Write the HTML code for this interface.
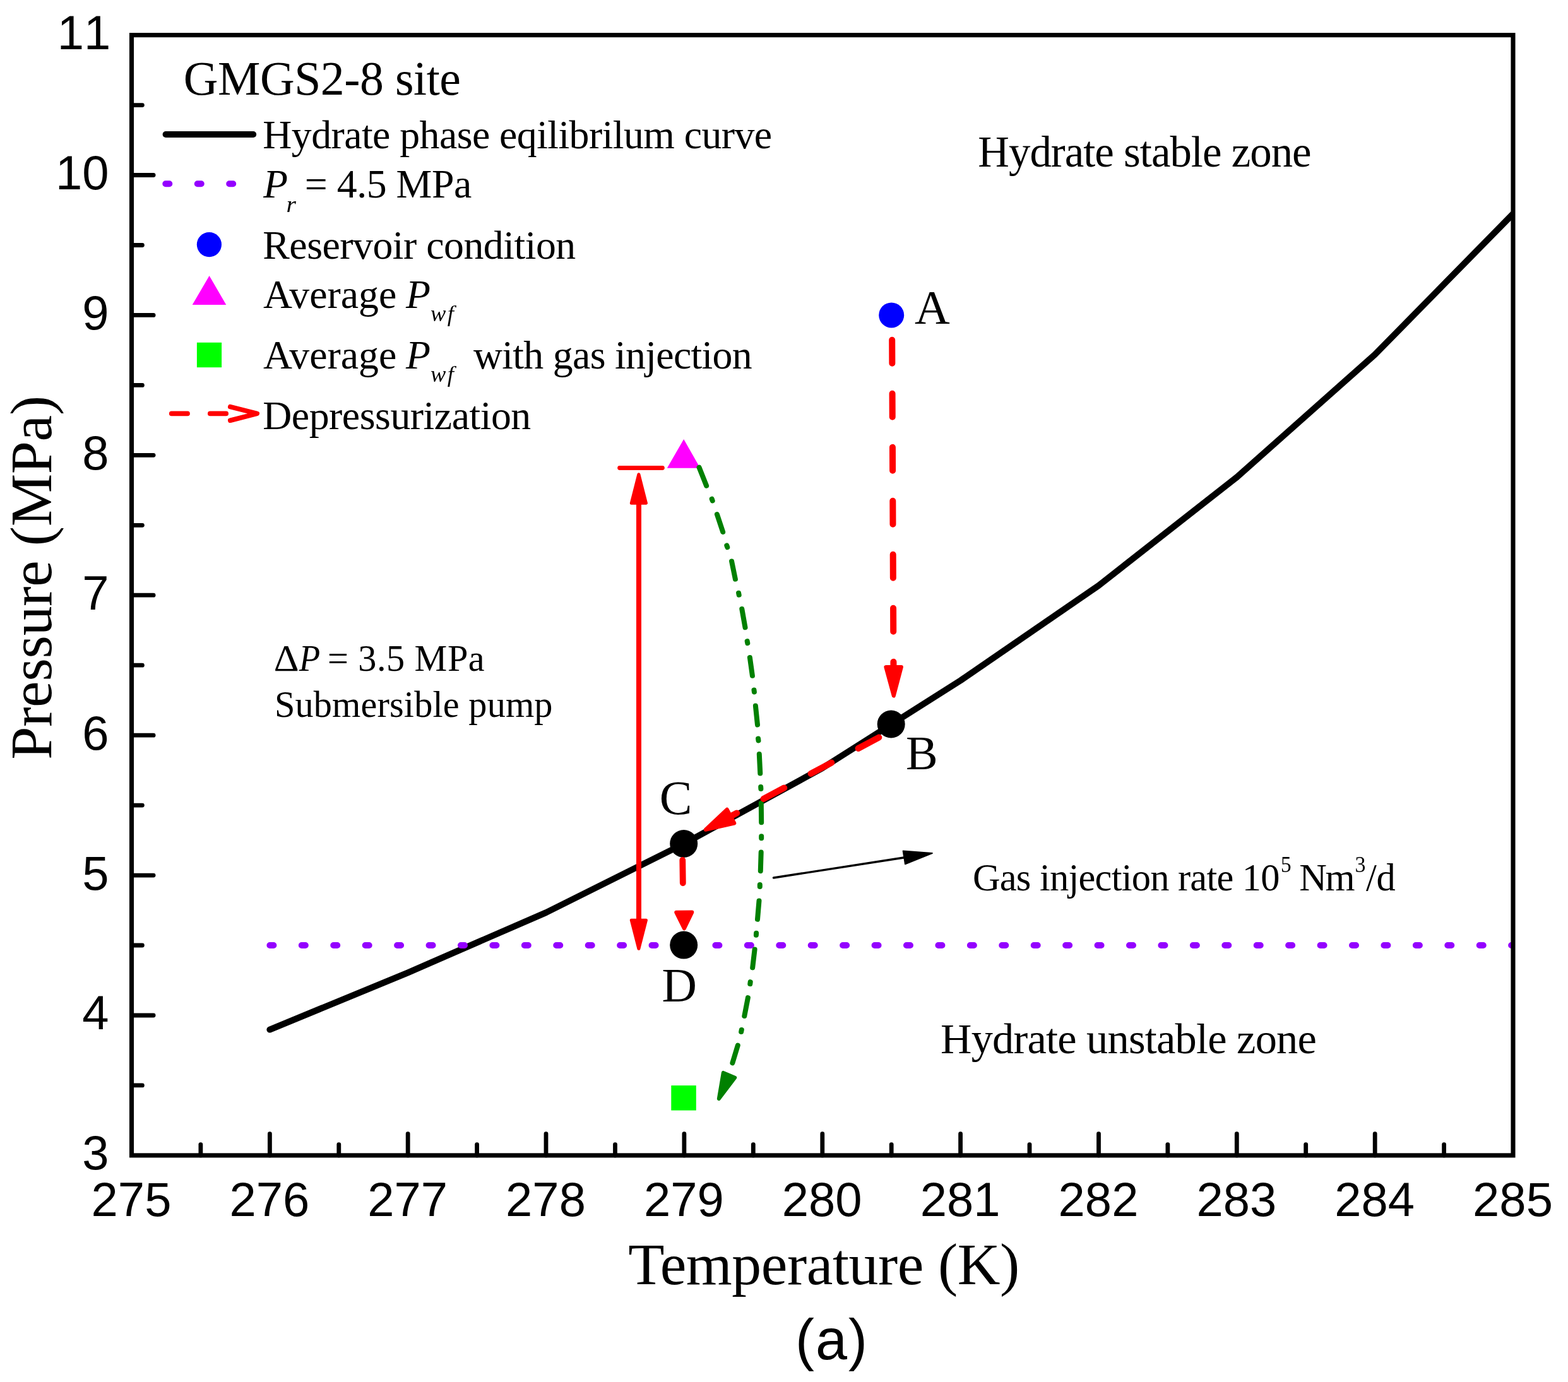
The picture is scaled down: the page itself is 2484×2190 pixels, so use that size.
<!DOCTYPE html>
<html><head><meta charset="utf-8"><title>Hydrate phase equilibrium</title>
<style>html,body{margin:0;padding:0;background:#fff;overflow:hidden}svg{display:block}</style></head>
<body>
<svg width="2484" height="2190" viewBox="0 0 2484 2190">
<rect width="2484" height="2190" fill="#fff"/>
<defs><clipPath id="plot"><rect x="208.5" y="55.6" width="2188.5" height="1775.3000000000002"/></clipPath></defs>
<polyline points="427.4,1631.6 646.2,1541.3 865.0,1446.1 1083.9,1336.9 1302.8,1217.1 1521.6,1078.4 1740.5,927.9 1959.3,756.2 2178.2,561.8 2397.0,338.8" fill="none" stroke="#000" stroke-width="10" stroke-linecap="round" stroke-linejoin="round" clip-path="url(#plot)"/>
<line x1="427.4" y1="1498.0" x2="2397.0" y2="1498.0" stroke="#9400ff" stroke-width="10" stroke-linecap="round" stroke-dasharray="6 44.43" clip-path="url(#plot)"/>
<polygon points="1083.2,696 1109.2,741.7 1056.8,741.7" fill="#ff00ff"/>
<path d="M1107.6,740.7L1119.1,769.7M1127.7,790.7L1128.7,793.5M1135.9,815.1L1145.2,843.0M1151.3,864.4L1152.3,867.2M1159.1,889.5L1164.9,917.7M1170.1,939.7L1170.7,942.7M1175.3,965.0L1180.5,994.3M1183.7,1016.1L1184.3,1019.1M1187.9,1042.0L1191.9,1070.8M1194.5,1093.5L1194.9,1096.5M1196.9,1118.5L1200.0,1148.5M1201.1,1170.5L1201.5,1173.5M1202.8,1195.1L1204.3,1225.5M1205.2,1247.1L1205.4,1250.1M1205.8,1272.8L1206.2,1303.2M1206.2,1325.2L1206.2,1328.2M1205.7,1350.5L1204.8,1380.2M1203.8,1401.9L1203.8,1404.9M1202.5,1427.5L1200.0,1456.8M1198.1,1478.8L1197.9,1481.8M1195.6,1504.5L1192.2,1533.4M1188.7,1556.1L1188.3,1559.1M1184.9,1581.1L1179.3,1610.0M1174.8,1632.0L1174.2,1635.0M1168.8,1656.7L1160.4,1684.4" fill="none" stroke="#008000" stroke-width="8" stroke-linecap="round"/>
<polygon points="1138.8,1741.2 1145.8,1699.9 1164.2,1707.8" fill="#008000" stroke="#008000" stroke-width="6" stroke-linejoin="round"/>
<rect x="208.5" y="55.6" width="2188.5" height="1775.3000000000002" fill="none" stroke="#000" stroke-width="7.1"/>
<line x1="208.5" y1="1719.9" x2="225.4" y2="1719.9" stroke="#000" stroke-width="6.8" stroke-linecap="round"/>
<line x1="208.5" y1="1609.0" x2="243.1" y2="1609.0" stroke="#000" stroke-width="6.8" stroke-linecap="round"/>
<line x1="208.5" y1="1498.0" x2="225.4" y2="1498.0" stroke="#000" stroke-width="6.8" stroke-linecap="round"/>
<line x1="208.5" y1="1387.1" x2="243.1" y2="1387.1" stroke="#000" stroke-width="6.8" stroke-linecap="round"/>
<line x1="208.5" y1="1276.1" x2="225.4" y2="1276.1" stroke="#000" stroke-width="6.8" stroke-linecap="round"/>
<line x1="208.5" y1="1165.2" x2="243.1" y2="1165.2" stroke="#000" stroke-width="6.8" stroke-linecap="round"/>
<line x1="208.5" y1="1054.2" x2="225.4" y2="1054.2" stroke="#000" stroke-width="6.8" stroke-linecap="round"/>
<line x1="208.5" y1="943.2" x2="243.1" y2="943.2" stroke="#000" stroke-width="6.8" stroke-linecap="round"/>
<line x1="208.5" y1="832.3" x2="225.4" y2="832.3" stroke="#000" stroke-width="6.8" stroke-linecap="round"/>
<line x1="208.5" y1="721.3" x2="243.1" y2="721.3" stroke="#000" stroke-width="6.8" stroke-linecap="round"/>
<line x1="208.5" y1="610.4" x2="225.4" y2="610.4" stroke="#000" stroke-width="6.8" stroke-linecap="round"/>
<line x1="208.5" y1="499.4" x2="243.1" y2="499.4" stroke="#000" stroke-width="6.8" stroke-linecap="round"/>
<line x1="208.5" y1="388.5" x2="225.4" y2="388.5" stroke="#000" stroke-width="6.8" stroke-linecap="round"/>
<line x1="208.5" y1="277.5" x2="243.1" y2="277.5" stroke="#000" stroke-width="6.8" stroke-linecap="round"/>
<line x1="208.5" y1="166.6" x2="225.4" y2="166.6" stroke="#000" stroke-width="6.8" stroke-linecap="round"/>
<line x1="317.9" y1="1830.9" x2="317.9" y2="1813.6000000000001" stroke="#000" stroke-width="6.8" stroke-linecap="round"/>
<line x1="427.4" y1="1830.9" x2="427.4" y2="1796.7000000000003" stroke="#000" stroke-width="6.8" stroke-linecap="round"/>
<line x1="536.8" y1="1830.9" x2="536.8" y2="1813.6000000000001" stroke="#000" stroke-width="6.8" stroke-linecap="round"/>
<line x1="646.2" y1="1830.9" x2="646.2" y2="1796.7000000000003" stroke="#000" stroke-width="6.8" stroke-linecap="round"/>
<line x1="755.6" y1="1830.9" x2="755.6" y2="1813.6000000000001" stroke="#000" stroke-width="6.8" stroke-linecap="round"/>
<line x1="865.0" y1="1830.9" x2="865.0" y2="1796.7000000000003" stroke="#000" stroke-width="6.8" stroke-linecap="round"/>
<line x1="974.5" y1="1830.9" x2="974.5" y2="1813.6000000000001" stroke="#000" stroke-width="6.8" stroke-linecap="round"/>
<line x1="1083.9" y1="1830.9" x2="1083.9" y2="1796.7000000000003" stroke="#000" stroke-width="6.8" stroke-linecap="round"/>
<line x1="1193.3" y1="1830.9" x2="1193.3" y2="1813.6000000000001" stroke="#000" stroke-width="6.8" stroke-linecap="round"/>
<line x1="1302.8" y1="1830.9" x2="1302.8" y2="1796.7000000000003" stroke="#000" stroke-width="6.8" stroke-linecap="round"/>
<line x1="1412.2" y1="1830.9" x2="1412.2" y2="1813.6000000000001" stroke="#000" stroke-width="6.8" stroke-linecap="round"/>
<line x1="1521.6" y1="1830.9" x2="1521.6" y2="1796.7000000000003" stroke="#000" stroke-width="6.8" stroke-linecap="round"/>
<line x1="1631.0" y1="1830.9" x2="1631.0" y2="1813.6000000000001" stroke="#000" stroke-width="6.8" stroke-linecap="round"/>
<line x1="1740.5" y1="1830.9" x2="1740.5" y2="1796.7000000000003" stroke="#000" stroke-width="6.8" stroke-linecap="round"/>
<line x1="1849.9" y1="1830.9" x2="1849.9" y2="1813.6000000000001" stroke="#000" stroke-width="6.8" stroke-linecap="round"/>
<line x1="1959.3" y1="1830.9" x2="1959.3" y2="1796.7000000000003" stroke="#000" stroke-width="6.8" stroke-linecap="round"/>
<line x1="2068.7" y1="1830.9" x2="2068.7" y2="1813.6000000000001" stroke="#000" stroke-width="6.8" stroke-linecap="round"/>
<line x1="2178.2" y1="1830.9" x2="2178.2" y2="1796.7000000000003" stroke="#000" stroke-width="6.8" stroke-linecap="round"/>
<line x1="2287.6" y1="1830.9" x2="2287.6" y2="1813.6000000000001" stroke="#000" stroke-width="6.8" stroke-linecap="round"/>
<g font-family="'Liberation Sans',Arial,Helvetica,sans-serif" font-size="76" fill="#000" style="font-kerning:none">
<text x="172.5" y="1853.3" text-anchor="end">3</text>
<text x="172.5" y="1631.4" text-anchor="end">4</text>
<text x="172.5" y="1409.5" text-anchor="end">5</text>
<text x="172.5" y="1187.6" text-anchor="end">6</text>
<text x="172.5" y="965.6" text-anchor="end">7</text>
<text x="172.5" y="743.7" text-anchor="end">8</text>
<text x="172.5" y="521.8" text-anchor="end">9</text>
<text x="172.5" y="299.9" text-anchor="end">10</text>
<text x="175.2" y="78.0" text-anchor="end">11</text>
<text x="208.0" y="1927.2" text-anchor="middle">275</text>
<text x="426.9" y="1927.2" text-anchor="middle">276</text>
<text x="645.7" y="1927.2" text-anchor="middle">277</text>
<text x="864.5" y="1927.2" text-anchor="middle">278</text>
<text x="1083.4" y="1927.2" text-anchor="middle">279</text>
<text x="1302.2" y="1927.2" text-anchor="middle">280</text>
<text x="1521.1" y="1927.2" text-anchor="middle">281</text>
<text x="1740.0" y="1927.2" text-anchor="middle">282</text>
<text x="1958.8" y="1927.2" text-anchor="middle">283</text>
<text x="2177.7" y="1927.2" text-anchor="middle">284</text>
<text x="2396.5" y="1927.2" text-anchor="middle">285</text>
</g>
<text x="1259.97" y="2153.50" font-family="'Liberation Sans',Arial,Helvetica,sans-serif" font-size="90" letter-spacing="1.963" xml:space="preserve">(a)</text>
<text x="995.36" y="2034.60" font-family="'Liberation Serif','Times New Roman',Times,serif" font-size="93.8" letter-spacing="-0.449" xml:space="preserve">Temperature (K)</text>
<text transform="translate(81.1,1203.7) rotate(-90)" font-family="'Liberation Serif','Times New Roman',Times,serif" font-size="93.8" letter-spacing="-0.312">Pressure (MPa)</text>
<text x="290.67" y="150.30" font-family="'Liberation Serif','Times New Roman',Times,serif" font-size="75.8" letter-spacing="-0.454" xml:space="preserve">GMGS2-8 site</text>
<text x="416.29" y="235.10" font-family="'Liberation Serif','Times New Roman',Times,serif" font-size="63.8" letter-spacing="-0.562" xml:space="preserve">Hydrate phase eqilibrilum curve</text>
<text transform="translate(417.32,312.70) scale(0.9936,1)" font-family="'Liberation Serif','Times New Roman',Times,serif" font-size="63.8" font-style="italic">P</text>
<text transform="translate(453.61,335.80) scale(1.1348,1)" font-family="'Liberation Serif','Times New Roman',Times,serif" font-size="35" font-style="italic">r</text>
<text x="482.81" y="312.70" font-family="'Liberation Serif','Times New Roman',Times,serif" font-size="63.8" letter-spacing="-0.467" xml:space="preserve">= 4.5 MPa</text>
<text x="416.29" y="410.30" font-family="'Liberation Serif','Times New Roman',Times,serif" font-size="63.8" letter-spacing="-0.500" xml:space="preserve">Reservoir condition</text>
<text x="416.96" y="488.20" font-family="'Liberation Serif','Times New Roman',Times,serif" font-size="63.8" letter-spacing="-0.011" xml:space="preserve">Average</text>
<text x="643.00" y="488.20" font-family="'Liberation Serif','Times New Roman',Times,serif" font-size="63.8" font-style="italic">P</text>
<text x="682.09" y="509.30" font-family="'Liberation Serif','Times New Roman',Times,serif" font-size="36.5" font-style="italic" letter-spacing="2.423" xml:space="preserve">wf</text>
<text x="416.96" y="584.20" font-family="'Liberation Serif','Times New Roman',Times,serif" font-size="63.8" letter-spacing="-0.011" xml:space="preserve">Average</text>
<text x="643.00" y="584.20" font-family="'Liberation Serif','Times New Roman',Times,serif" font-size="63.8" font-style="italic">P</text>
<text x="682.09" y="605.30" font-family="'Liberation Serif','Times New Roman',Times,serif" font-size="36.5" font-style="italic" letter-spacing="2.423" xml:space="preserve">wf</text>
<text x="749.90" y="584.20" font-family="'Liberation Serif','Times New Roman',Times,serif" font-size="63.8" letter-spacing="-0.692" xml:space="preserve">with gas injection</text>
<text x="416.29" y="680.20" font-family="'Liberation Serif','Times New Roman',Times,serif" font-size="63.8" letter-spacing="-0.485" xml:space="preserve">Depressurization</text>
<text x="1549.34" y="263.60" font-family="'Liberation Serif','Times New Roman',Times,serif" font-size="68.8" letter-spacing="-1.004" xml:space="preserve">Hydrate stable zone</text>
<text x="1490.05" y="1669.20" font-family="'Liberation Serif','Times New Roman',Times,serif" font-size="68.4" letter-spacing="-0.786" xml:space="preserve">Hydrate unstable zone</text>
<text x="1540.88" y="1411.20" font-family="'Liberation Serif','Times New Roman',Times,serif" font-size="60.5" letter-spacing="-0.781" xml:space="preserve">Gas injection rate 10</text>
<text transform="translate(2028.89,1381.90) scale(0.9248,1)" font-family="'Liberation Serif','Times New Roman',Times,serif" font-size="36">5</text>
<text x="2058.28" y="1411.20" font-family="'Liberation Serif','Times New Roman',Times,serif" font-size="60.5" letter-spacing="-2.428" xml:space="preserve">Nm</text>
<text transform="translate(2146.59,1381.90) scale(0.9428,1)" font-family="'Liberation Serif','Times New Roman',Times,serif" font-size="36">3</text>
<text x="2164.10" y="1411.20" font-family="'Liberation Serif','Times New Roman',Times,serif" font-size="60.5" letter-spacing="-0.482" xml:space="preserve">/d</text>
<text transform="translate(433.77,1062.50) scale(1.0639,1)" font-family="'Liberation Serif','Times New Roman',Times,serif" font-size="58.3">Δ</text>
<text transform="translate(473.67,1062.50) scale(0.9390,1)" font-family="'Liberation Serif','Times New Roman',Times,serif" font-size="58.3" font-style="italic">P</text>
<text x="518.88" y="1062.50" font-family="'Liberation Serif','Times New Roman',Times,serif" font-size="58.3" letter-spacing="0.467" xml:space="preserve">= 3.5 MPa</text>
<text x="435.06" y="1135.90" font-family="'Liberation Serif','Times New Roman',Times,serif" font-size="58.3" letter-spacing="0.108" xml:space="preserve">Submersible pump</text>
<text transform="translate(1449.03,513.00) scale(1.0153,1)" font-family="'Liberation Serif','Times New Roman',Times,serif" font-size="76">A</text>
<text x="1434.89" y="1218.80" font-family="'Liberation Serif','Times New Roman',Times,serif" font-size="76">B</text>
<text transform="translate(1044.70,1289.50) scale(1.0205,1)" font-family="'Liberation Serif','Times New Roman',Times,serif" font-size="76">C</text>
<text transform="translate(1048.60,1586.50) scale(1.0103,1)" font-family="'Liberation Serif','Times New Roman',Times,serif" font-size="76">D</text>
<line x1="262.6" y1="213" x2="401.2" y2="213" stroke="#000" stroke-width="10" stroke-linecap="round"/>
<line x1="262.3" y1="291.2" x2="400" y2="291.2" stroke="#9400ff" stroke-width="10" stroke-linecap="round" stroke-dasharray="6 44.46"/>
<circle cx="331.4" cy="387.6" r="19.6" fill="#0000ff"/>
<polygon points="331.6,437 358.3,483 304.7,483" fill="#ff00ff"/>
<rect x="311.9" y="542.8" width="39.2" height="39.4" fill="#00ff00"/>
<line x1="271.7" y1="655.4" x2="380" y2="655.4" stroke="#ff0000" stroke-width="7.6" stroke-linecap="round" stroke-dasharray="25.4 35.7"/>
<polyline points="364.8,644.6 407.3,655.4 364.8,666.2" fill="none" stroke="#ff0000" stroke-width="7.6" stroke-linecap="round" stroke-linejoin="round"/>
<circle cx="1412.2" cy="499.4" r="20" fill="#0000ff"/>
<rect x="1063.3" y="1720.1" width="39.5" height="39.5" fill="#00ff00"/>
<circle cx="1411.7" cy="1147.5" r="22" fill="#000"/>
<circle cx="1083.2" cy="1337.0" r="22" fill="#000"/>
<line x1="1413.2" y1="538.7" x2="1415.5" y2="1060" stroke="#ff0000" stroke-width="10" stroke-linecap="round" stroke-dasharray="37 48"/>
<polygon points="1415.8,1102.7 1403.4,1057.1 1427.9,1057.1" fill="#ff0000" stroke="#ff0000" stroke-width="6" stroke-linejoin="round"/>
<line x1="1392.3" y1="1168.6" x2="1154.9" y2="1295.0" stroke="#ff0000" stroke-width="10" stroke-linecap="round" stroke-dasharray="37 48"/>
<polygon points="1117.8,1314.8 1151.8,1282.8 1163.3,1304.5" fill="#ff0000" stroke="#ff0000" stroke-width="6" stroke-linejoin="round"/>
<line x1="1081.3" y1="1363" x2="1081.8" y2="1399.3" stroke="#ff0000" stroke-width="9.8" stroke-linecap="round"/>
<polygon points="1084.0,1471.3 1071.3,1445.8 1096.3,1445.6" fill="#ff0000" stroke="#ff0000" stroke-width="6" stroke-linejoin="round"/>
<circle cx="1083.2" cy="1497.6" r="22" fill="#000"/>
<line x1="1012" y1="790" x2="1012" y2="1465" stroke="#ff0000" stroke-width="8"/>
<polygon points="1011.9,751.7 1023.5,797.3 1000.3,797.3" fill="#ff0000" stroke="#ff0000" stroke-width="5.0" stroke-linejoin="round"/>
<polygon points="1011.9,1503.3 1000.3,1458.2 1023.5,1458.2" fill="#ff0000" stroke="#ff0000" stroke-width="5.0" stroke-linejoin="round"/>
<line x1="981.6" y1="741.5" x2="1049.4" y2="741.5" stroke="#ff0000" stroke-width="6.8" stroke-linecap="round"/>
<line x1="1225.5" y1="1391.0" x2="1438.3" y2="1358.0" stroke="#000" stroke-width="3.4" stroke-linecap="round"/>
<polygon points="1476.8,1352.1 1434.0,1369.3 1430.7,1348.6" fill="#000" stroke="#000" stroke-width="2" stroke-linejoin="round"/>
</svg>
</body></html>
